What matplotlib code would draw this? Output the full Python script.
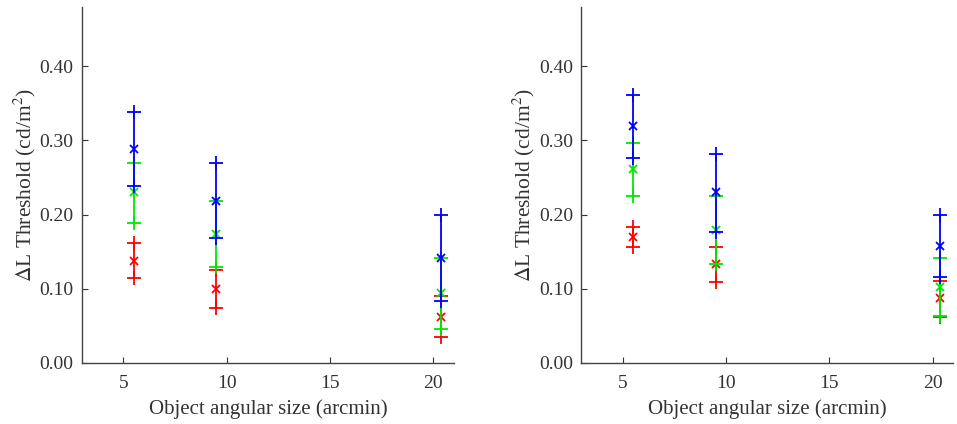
import matplotlib
matplotlib.use("Agg")
import matplotlib.pyplot as plt
import numpy as np

plt.rcParams['font.family'] = ['Liberation Serif', 'DejaVu Serif']
plt.rcParams['mathtext.fontset'] = 'stix'

sizes = [5.5, 9.5, 20.35]

# Left panel: (mean, low, high) per colour series
left_blue_mean = [0.288, 0.219, 0.141]
left_blue_low = [0.239, 0.168, 0.084]
left_blue_high = [0.338, 0.270, 0.199]
left_green_mean = [0.230, 0.174, 0.094]
left_green_low = [0.189, 0.129, 0.046]
left_green_high = [0.270, 0.219, 0.142]
left_red_mean = [0.138, 0.100, 0.062]
left_red_low = [0.114, 0.074, 0.035]
left_red_high = [0.162, 0.126, 0.090]

# Right panel
right_blue_mean = [0.319, 0.230, 0.158]
right_blue_low = [0.276, 0.177, 0.116]
right_blue_high = [0.361, 0.282, 0.199]
right_green_mean = [0.261, 0.179, 0.102]
right_green_low = [0.225, 0.133, 0.063]
right_green_high = [0.296, 0.225, 0.142]
right_red_mean = [0.170, 0.133, 0.087]
right_red_low = [0.156, 0.109, 0.062]
right_red_high = [0.183, 0.157, 0.111]

x_ticks = [5, 10, 15, 20]
y_ticks = [0.0, 0.1, 0.2, 0.3, 0.4]
y_ticklabels = ['0.00', '0.10', '0.20', '0.30', '0.40']

RED = '#ff0000'
GREEN = '#00e800'
BLUE = '#0000ff'

fig = plt.figure(figsize=(9.57, 4.24), dpi=100)
ax1 = fig.add_axes([0.0857, 0.1439, 0.3887, 0.8396])
ax2 = fig.add_axes([0.6074, 0.1439, 0.3887, 0.8396])


def draw_series(ax, mean, low, high, color):
    x = np.array(sizes)
    mean = np.array(mean)
    low = np.array(low)
    high = np.array(high)
    ax.vlines(x, low, high, color=color, lw=1.3)
    ax.plot(x, low, '+', color=color, ms=10, mew=1.3, ls='none')
    ax.plot(x, high, '+', color=color, ms=10, mew=1.3, ls='none')
    ax.plot(x, mean, 'x', color=color, ms=6, mew=1.3, ls='none')


panels = [
    (ax1, [(left_red_mean, left_red_low, left_red_high, RED),
           (left_green_mean, left_green_low, left_green_high, GREEN),
           (left_blue_mean, left_blue_low, left_blue_high, BLUE)]),
    (ax2, [(right_red_mean, right_red_low, right_red_high, RED),
           (right_green_mean, right_green_low, right_green_high, GREEN),
           (right_blue_mean, right_blue_low, right_blue_high, BLUE)]),
]

for ax, series in panels:
    for m, lo, hi, c in series:
        draw_series(ax, m, lo, hi, c)
    ax.set_xlim(3, 21)
    ax.set_ylim(0, 0.48)
    ax.set_xticks(x_ticks)
    ax.set_yticks(y_ticks)
    ax.set_yticklabels(y_ticklabels)
    ax.tick_params(direction='in', length=4, width=0.8, colors='#333333',
                   labelsize=14, labelcolor='#333333')
    ax.tick_params(axis='x', pad=9)
    ax.tick_params(axis='y', pad=6)
    for s in ['top', 'right']:
        ax.spines[s].set_visible(False)
    for s in ['left', 'bottom']:
        ax.spines[s].set_color('#444444')
        ax.spines[s].set_linewidth(1.0)
    ax.set_xlabel('Object angular size (arcmin)', fontsize=15, color='#333333', labelpad=5)
    ax.set_ylabel(r'$\Delta$L Threshold (cd/m$^2$)', fontsize=15.5, color='#333333', labelpad=1)

fig.savefig('out.png', dpi=100)
